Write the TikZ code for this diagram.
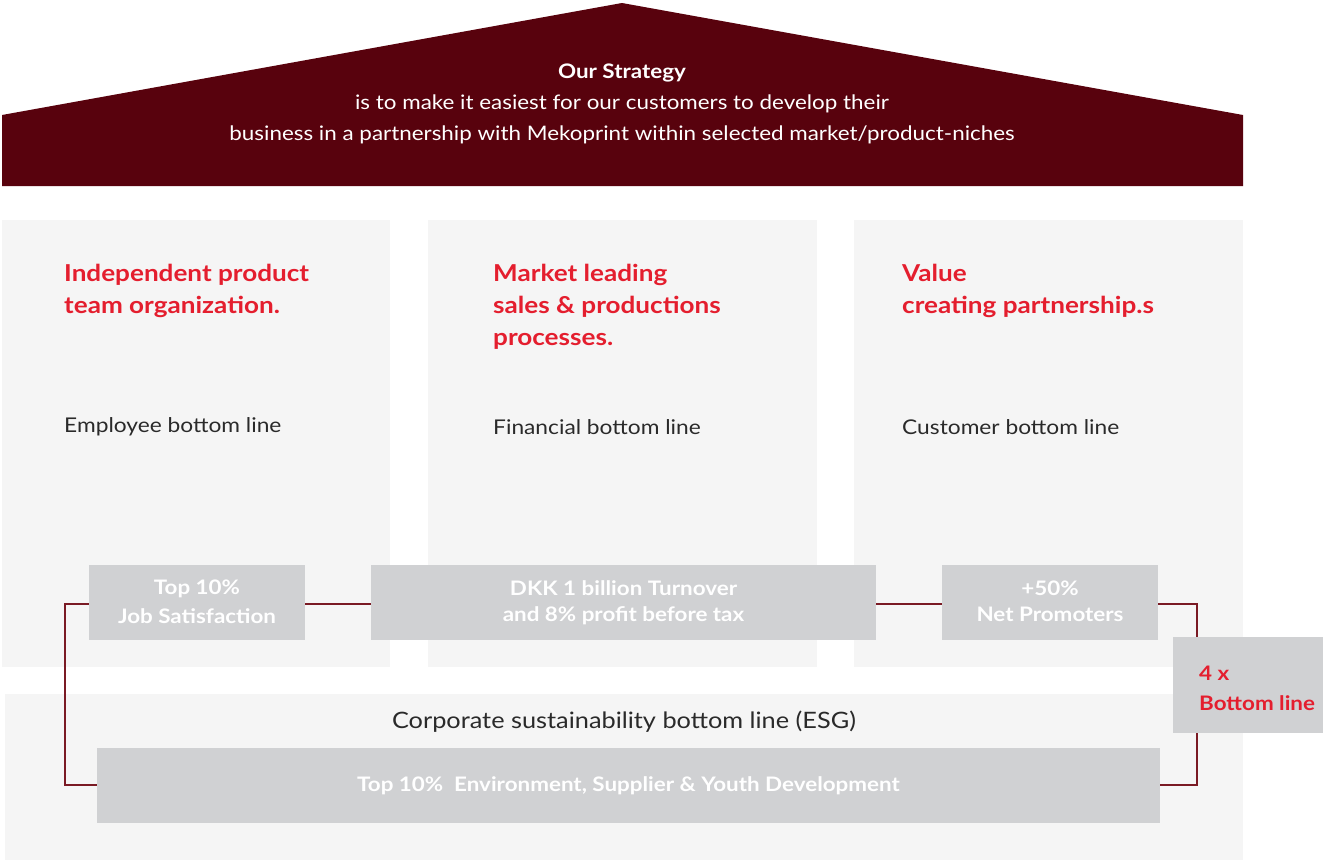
\documentclass[tikz,border=0pt]{standalone}
\usepackage{fontspec}
\setmainfont{Lato}[FakeStretch=1.12]
\definecolor{roof}{HTML}{58020D}
\definecolor{redt}{HTML}{E41E2E}
\definecolor{boxg}{HTML}{D0D1D3}
\definecolor{panel}{HTML}{F5F5F5}
\definecolor{conn}{HTML}{7A1A24}
\definecolor{bodyt}{HTML}{2A2A2A}
\begin{document}
\begin{tikzpicture}[x=1pt,y=-1pt,
  panelbox/.style={fill=panel,draw=none},
  goalbox/.style={fill=boxg,draw=none,inner sep=0pt,text=white,font=\fontsize{20}{29}\selectfont\bfseries,align=center},
  titletext/.style={anchor=north west,inner sep=0pt,text=redt,font=\fontsize{23.3}{32}\selectfont\bfseries,align=left},
  bodytext/.style={anchor=west,inner sep=0pt,text=bodyt,font=\fontsize{20.3}{24}\selectfont},
  link/.style={draw=conn,line width=1.3pt}]
\useasboundingbox (0,0) rectangle (1323,862);
% roof
\fill[roof] (2,186) -- (2,115) -- (622,3) -- (1243,115) -- (1243,186) -- cycle;
\node[text=white,font=\fontsize{20}{31}\selectfont,align=center,inner sep=0pt] (strat) at (622,104)
  {\textbf{Our Strategy}\\is to make it easiest for our customers to develop their\\business in a partnership with Mekoprint within selected market/product-niches};
% panels
\fill[panelbox] (2,220) rectangle (390,667);
\fill[panelbox] (428,220) rectangle (817,667);
\fill[panelbox] (854,220) rectangle (1243,667);
\fill[panelbox] (5,694) rectangle (1243,860);
% titles
\node[titletext] (t1) at (64,264) {Independent product\\team organization.};
\node[titletext] (t2) at (493,264) {Market leading\\sales \& productions\\processes.};
\node[titletext] (t3) at (902,264) {Value\\creating partnership.s};
\node[bodytext] (b1) at (64,427) {Employee bottom line};
\node[bodytext] (b2) at (493,427) {Financial bottom line};
\node[bodytext] (b3) at (902,427) {Customer bottom line};
\node[bodytext,anchor=center,font=\fontsize{22.6}{26}\selectfont] (b4) at (624,722) {Corporate sustainability bottom line (ESG)};
% goal boxes
\node[goalbox,minimum width=216pt,minimum height=75pt] (job) at (197,602.5) {\raisebox{2pt}{\shortstack{Top 10\%\\[8pt]Job Satisfaction}}};
\node[goalbox,minimum width=505pt,minimum height=75pt] (dkk) at (623.5,602.5) {\raisebox{2pt}{\shortstack{DKK 1 billion Turnover\\[8pt]and 8\% profit before tax}}};
\node[goalbox,minimum width=216pt,minimum height=75pt] (nps) at (1050,602.5) {\raisebox{2pt}{\shortstack{+50\%\\[8pt]Net Promoters}}};
\node[goalbox,minimum width=1063pt,minimum height=75pt] (esg) at (628.5,785.5) {Top 10\%\ \ Environment, Supplier \& Youth Development};
\node[fill=boxg,inner sep=0pt,minimum width=150pt,minimum height=96pt] (four) at (1248,685) {};
\node[anchor=west,inner sep=0pt,text=redt,font=\fontsize{20}{30}\selectfont\bfseries,align=left] (fourt) at (1199,688) {4 x\\Bottom line};
% connectors
\coordinate (lc) at (65,604);
\coordinate (rc) at (1197,604);
\draw[link] (job.east |- 0,604) -- (dkk.west |- 0,604);
\draw[link] (dkk.east |- 0,604) -- (nps.west |- 0,604);
\draw[link] (job.west |- 0,604) -- (lc) |- (esg.west |- 0,785);
\draw[link] (nps.east |- 0,604) -| (four.north -| rc);
\draw[link] (four.south -| rc) |- (esg.east |- 0,785);
\end{tikzpicture}
\end{document}
